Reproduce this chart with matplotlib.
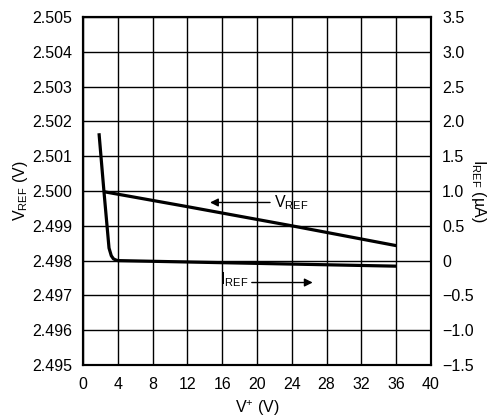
import matplotlib.pyplot as plt
from matplotlib.ticker import FixedLocator, FixedFormatter

plt.rcParams['font.family'] = ['Liberation Sans', 'DejaVu Sans']
plt.rcParams['mathtext.fontset'] = 'custom'
plt.rcParams['mathtext.rm'] = 'Liberation Sans'
plt.rcParams['mathtext.it'] = 'Liberation Sans'

# supply voltage (V) and measured reference voltage / current
v_supply_vref = [2.4, 12, 24, 36]
vref = [2.49998, 2.49955, 2.49900, 2.49843]

v_supply_iref = [1.84, 2.41, 2.99, 3.25, 3.5, 3.75, 4.0, 8, 16, 24, 36]
iref = [1.83, 0.99, 0.18, 0.07, 0.025, 0.01, 0.0, -0.01, -0.03, -0.05, -0.08]

x_ticks = list(range(0, 41, 4))
vref_ticks = [2.495, 2.496, 2.497, 2.498, 2.499, 2.500, 2.501, 2.502, 2.503, 2.504, 2.505]
iref_ticks = [-1.5, -1.0, -0.5, 0, 0.5, 1.0, 1.5, 2.0, 2.5, 3.0, 3.5]
iref_labels = ['\u22121.5', '\u22121.0', '\u22120.5', '0', '0.5', '1.0', '1.5',
               '2.0', '2.5', '3.0', '3.5']

fig = plt.figure(figsize=(4.9, 4.19), dpi=100)
ax = fig.add_axes([0.1694, 0.1289, 0.7102, 0.8305])
ax2 = ax.twinx()

ax.set_xlim(0, 40)
ax.set_ylim(2.495, 2.505)
ax2.set_ylim(-1.5, 3.5)

ax.xaxis.set_major_locator(FixedLocator(x_ticks))
ax.yaxis.set_major_locator(FixedLocator(vref_ticks))
ax.set_yticklabels([f'{v:.3f}' for v in vref_ticks])
ax2.yaxis.set_major_locator(FixedLocator(iref_ticks))
ax2.yaxis.set_major_formatter(FixedFormatter(iref_labels))

ax.grid(True, color='black', linewidth=1.0)
for a in (ax, ax2):
    a.tick_params(length=0, labelsize=11.5, pad=8)
    for s in a.spines.values():
        s.set_linewidth(1.5)
ax.tick_params(axis='x', pad=9)

ax.plot(v_supply_vref, vref, color='black', linewidth=2.3, solid_capstyle='butt')
ax2.plot(v_supply_iref, iref, color='black', linewidth=2.3, solid_capstyle='butt',
         solid_joinstyle='round')

# curve labels with arrows
ax.annotate('', xy=(14.6, 2.49967), xytext=(21.5, 2.49967),
            arrowprops=dict(arrowstyle='-|>', color='black', lw=1.0,
                            mutation_scale=12, shrinkA=0, shrinkB=0))
ax.text(21.9, 2.49967, r'V$_{\rm REF}$', fontsize=11.5, va='center', ha='left')
ax.annotate('', xy=(26.4, 2.49737), xytext=(19.4, 2.49737),
            arrowprops=dict(arrowstyle='-|>', color='black', lw=1.0,
                            mutation_scale=12, shrinkA=0, shrinkB=0))
ax.text(19.0, 2.49745, r'I$_{\rm REF}$', fontsize=11.5, va='center', ha='right')

ax.set_xlabel(r'V$^{+}$ (V)', fontsize=11.5, labelpad=4)
ax.set_ylabel(r'V$_{\rm REF}$ (V)', fontsize=11.5, labelpad=1)
ax2.set_ylabel('I$_{\\rm REF}$ (\u00b5A)', fontsize=11.5, rotation=-90,
               labelpad=10)

fig.savefig('out.png', dpi=100)
